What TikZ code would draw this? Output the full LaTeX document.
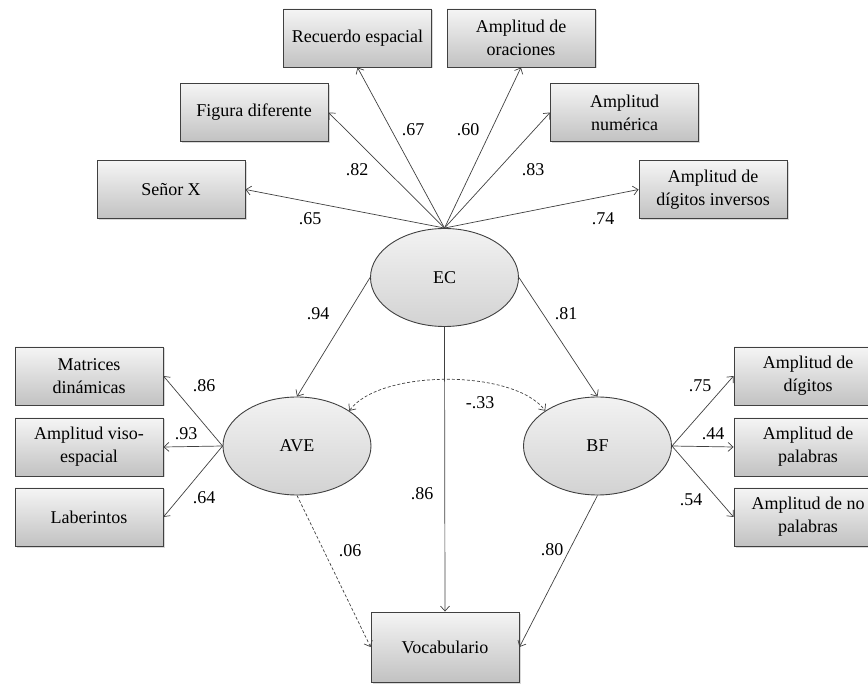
\documentclass[tikz,border=0pt]{standalone}
\usepackage{fontspec}
\setmainfont{Liberation Serif}
\usetikzlibrary{arrows.meta, shapes.geometric, shadows}

\begin{document}
\begin{tikzpicture}[x=1pt,y=-1pt,
  caja/.style={rectangle,draw=black!75,line width=0.9pt,top color=gray!8,bottom color=gray!48,
    minimum width=148pt,minimum height=58pt,align=center,font=\fontsize{18}{23}\selectfont,
    drop shadow={opacity=0.3,shadow xshift=1.5pt,shadow yshift=-1.5pt}},
  factor/.style={ellipse,draw=black!75,line width=0.9pt,top color=gray!10,bottom color=gray!35,
    minimum width=148pt,minimum height=98pt,font=\fontsize{18}{23}\selectfont},
  carga/.style={draw=black!75,line width=0.7pt,-{Straight Barb[length=5pt,width=9pt]}},
  punteada/.style={dash pattern=on 3pt off 2pt},
  peso/.style={font=\fontsize{18}{23}\selectfont}]
\useasboundingbox (0,0) rectangle (868,684);
% Modelo de ecuaciones estructurales
\node[caja] (rec) at (357.5,38) {Recuerdo espacial};
\node[caja] (ora) at (521,38) {Amplitud de\\oraciones};
\node[caja] (fig) at (254,112.5) {Figura diferente};
\node[caja] (num) at (624.5,112.5) {Amplitud\\numérica};
\node[caja] (sen) at (171,189.5) {Señor X};
\node[caja] (inv) at (713,189.5) {Amplitud de\\dígitos inversos};
\node[factor] (EC) at (444.5,277.5) {EC};
\node[factor] (AVE) at (297,446) {AVE};
\node[factor] (BF) at (597.5,446) {BF};
\node[caja] (mat) at (89,376) {Matrices\\dinámicas};
\node[caja] (viso) at (89,447) {Amplitud viso-\\espacial};
\node[caja] (lab) at (89,517) {Laberintos};
\node[caja] (dig) at (808,376) {Amplitud de\\dígitos};
\node[caja] (pal) at (808,447) {Amplitud de\\palabras};
\node[caja] (nopal) at (808,517) {Amplitud de no\\palabras};
\node[caja,minimum height=70pt] (voc) at (445,647) {Vocabulario};
% cargas de EC
\draw[carga] (EC.north) -- (rec.south);
\draw[carga] (EC.north) -- (ora.south);
\draw[carga] (EC.north) -- (fig.east);
\draw[carga] (EC.north) -- (num.west);
\draw[carga] (EC.north) -- (sen.east);
\draw[carga] (EC.north) -- (inv.west);
\draw[carga] (EC.west) -- (AVE.north);
\draw[carga] (EC.east) -- (BF.north);
\draw[carga] (EC.south) -- (voc.north);
% cargas de AVE y BF
\draw[carga] (AVE.west) -- (mat.east);
\draw[carga] (AVE.west) -- (viso.east);
\draw[carga] (AVE.west) -- (lab.east);
\draw[carga] (BF.east) -- (dig.west);
\draw[carga] (BF.east) -- (pal.west);
\draw[carga] (BF.east) -- (nopal.west);
\draw[carga,punteada] (AVE.south) -- (voc.west);
\draw[carga] (BF.south) -- (voc.east);
\draw[carga,{Straight Barb[length=5pt,width=9pt]}-{Straight Barb[length=5pt,width=9pt]},punteada]
  (AVE.34) .. controls (380,369) and (514,369) .. (BF.146);
% pesos
\node[peso] at (413,130) {.67};
\node[peso] at (468,130) {.60};
\node[peso] at (357,170) {.82};
\node[peso] at (533,170) {.83};
\node[peso] at (310,219) {.65};
\node[peso] at (603,219) {.74};
\node[peso] at (318,314) {.94};
\node[peso] at (566,314) {.81};
\node[peso] at (204,386) {.86};
\node[peso] at (186,434) {.93};
\node[peso] at (204,498) {.64};
\node[peso] at (700,386) {.75};
\node[peso] at (713,434) {.44};
\node[peso] at (691,500) {.54};
\node[peso] at (480,403) {-.33};
\node[peso] at (422,494) {.86};
\node[peso] at (350,551) {.06};
\node[peso] at (552,550) {.80};
\end{tikzpicture}
\end{document}
